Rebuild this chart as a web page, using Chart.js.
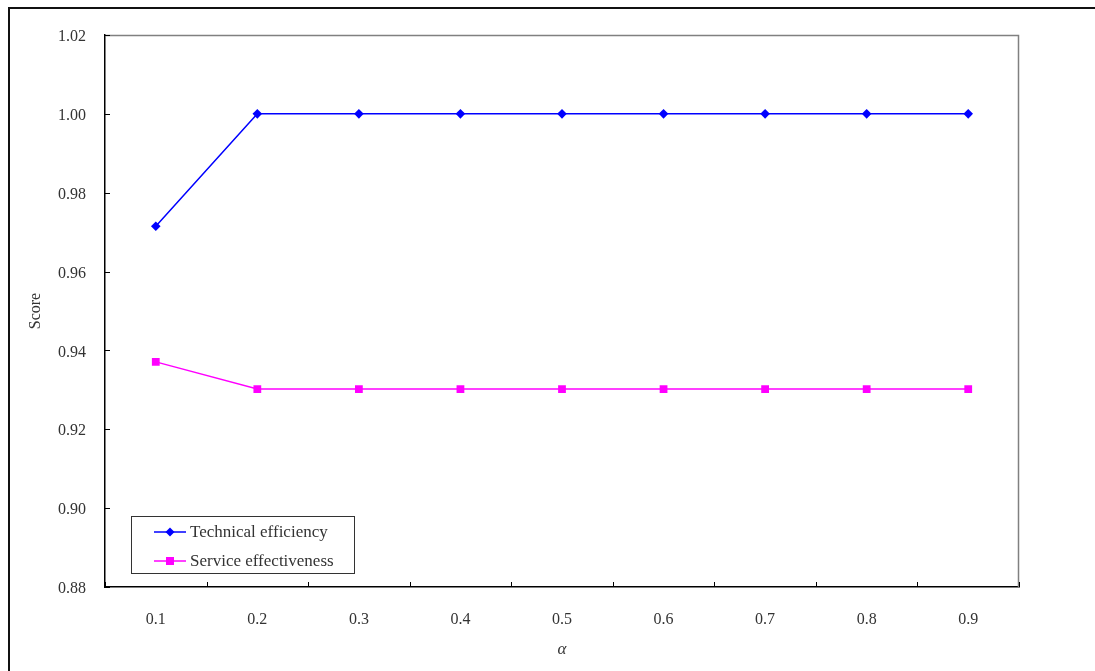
<!DOCTYPE html>
<html>
<head>
<meta charset="utf-8">
<script src="https://cdn.jsdelivr.net/npm/chart.js@4/dist/chart.umd.min.js"></script>
<style>
  html, body { margin: 0; padding: 0; background: #fff; }
  #wrap { width: 1095px; height: 671px; }
</style>
</head>
<body>
<div id="wrap"><canvas id="chart" width="1095" height="671"></canvas></div>
<script>
// 데이터
const alphaLabels = ['0.1', '0.2', '0.3', '0.4', '0.5', '0.6', '0.7', '0.8', '0.9'];
const technicalEfficiency = [0.9715, 1.0, 1.0, 1.0, 1.0, 1.0, 1.0, 1.0, 1.0];
const serviceEffectiveness = [0.9371, 0.9302, 0.9302, 0.9302, 0.9302, 0.9302, 0.9302, 0.9302, 0.9302];
const seriesNames = ['Technical efficiency', 'Service effectiveness'];

const FONT = "'Liberation Serif', 'DejaVu Serif', serif";

// 바깥 테두리, 안쪽 눈금, 범례를 그리는 플러그인
const framePlugin = {
    id: 'frame',
    beforeDraw(chart) {
        const ctx = chart.ctx;
        ctx.save();
        ctx.fillStyle = '#fff';
        ctx.fillRect(0, 0, chart.width, chart.height);
        ctx.strokeStyle = '#111';
        ctx.lineWidth = 2;
        ctx.beginPath();
        ctx.moveTo(9, chart.height);
        ctx.lineTo(9, 8);
        ctx.lineTo(chart.width, 8);
        ctx.stroke();
        ctx.restore();
    },
    afterDraw(chart) {
        const ctx = chart.ctx;
        const a = chart.chartArea;
        const xs = chart.scales.x;
        const ys = chart.scales.y;
        ctx.save();
        // 위, 오른쪽 테두리 (회색)
        ctx.strokeStyle = '#808080';
        ctx.lineWidth = 1.5;
        ctx.beginPath();
        ctx.moveTo(a.left, a.top + 0.5);
        ctx.lineTo(a.right - 0.5, a.top + 0.5);
        ctx.lineTo(a.right - 0.5, a.bottom);
        ctx.stroke();

        // 안쪽 눈금
        ctx.strokeStyle = '#000';
        ctx.lineWidth = 1;
        ctx.beginPath();
        ys.ticks.forEach(t => {
            const y = Math.round(ys.getPixelForValue(t.value)) + 0.5;
            ctx.moveTo(a.left, y);
            ctx.lineTo(a.left + 5, y);
        });
        const step = xs.getPixelForValue(1) - xs.getPixelForValue(0);
        for (let i = 0; i <= alphaLabels.length; i++) {
            const x = Math.round(xs.getPixelForValue(i) - step / 2) + 0.5;
            ctx.moveTo(x, a.bottom);
            ctx.lineTo(x, a.bottom - 5);
        }
        ctx.stroke();

        // 범례
        const bx = 131.5, by = 516.5, bw = 223, bh = 57;
        ctx.strokeStyle = '#333';
        ctx.lineWidth = 1;
        ctx.fillStyle = '#fff';
        ctx.fillRect(bx, by, bw, bh);
        ctx.strokeRect(bx, by, bw, bh);
        ctx.font = '17px ' + FONT;
        ctx.textBaseline = 'middle';
        chart.data.datasets.forEach((ds, i) => {
            const cy = 532 + i * 29;
            ctx.strokeStyle = ds.borderColor;
            ctx.lineWidth = 1.5;
            ctx.beginPath();
            ctx.moveTo(154, cy);
            ctx.lineTo(186, cy);
            ctx.stroke();
            ctx.fillStyle = ds.borderColor;
            ctx.beginPath();
            if (ds.pointStyle === 'rectRot') {
                ctx.moveTo(170, cy - 4.5);
                ctx.lineTo(174.5, cy);
                ctx.lineTo(170, cy + 4.5);
                ctx.lineTo(165.5, cy);
                ctx.closePath();
            } else {
                ctx.rect(166, cy - 4, 8, 8);
            }
            ctx.fill();
            ctx.fillStyle = '#333';
            ctx.fillText(ds.label, 190, cy + 1);
        });
        ctx.restore();
    }
};

const ctx = document.getElementById('chart').getContext('2d');
new Chart(ctx, {
    type: 'line',
    data: {
        labels: alphaLabels,
        datasets: [{
            label: seriesNames[0],
            data: technicalEfficiency,
            borderColor: '#0000ff',
            backgroundColor: '#0000ff',
            borderWidth: 1.5,
            pointStyle: 'rectRot',
            pointRadius: 4.8,
            pointBorderWidth: 0,
            tension: 0
        }, {
            label: seriesNames[1],
            data: serviceEffectiveness,
            borderColor: '#ff00ff',
            backgroundColor: '#ff00ff',
            borderWidth: 1.5,
            pointStyle: 'rect',
            pointRadius: 5.5,
            pointBorderWidth: 0,
            tension: 0
        }]
    },
    options: {
        responsive: false,
        animation: false,
        layout: { padding: { left: 0, top: 35, right: 76, bottom: 0 } },
        plugins: {
            legend: { display: false },
            tooltip: { enabled: false }
        },
        scales: {
            x: {
                offset: true,
                grid: { display: false },
                border: { display: true, color: '#000', width: 1.5 },
                ticks: { color: '#333', font: { family: FONT, size: 16 }, padding: 15 },
                title: {
                    display: true,
                    text: 'α',
                    color: '#333',
                    font: { family: FONT, size: 17, style: 'italic' },
                    padding: { top: 0, bottom: 11 }
                },
                afterFit(scale) { scale.height = 84; }
            },
            y: {
                min: 0.88,
                max: 1.02,
                grid: { display: false },
                border: { display: true, color: '#000', width: 1.5 },
                ticks: {
                    stepSize: 0.02,
                    color: '#333',
                    font: { family: FONT, size: 16 },
                    padding: 11,
                    labelOffset: 2,
                    callback: v => v.toFixed(2)
                },
                title: {
                    display: true,
                    text: 'Score',
                    color: '#333',
                    font: { family: FONT, size: 16 },
                    padding: { top: 26, bottom: 0 }
                },
                afterFit(scale) { scale.width = 105; }
            }
        }
    },
    plugins: [framePlugin]
});
</script>
</body>
</html>
